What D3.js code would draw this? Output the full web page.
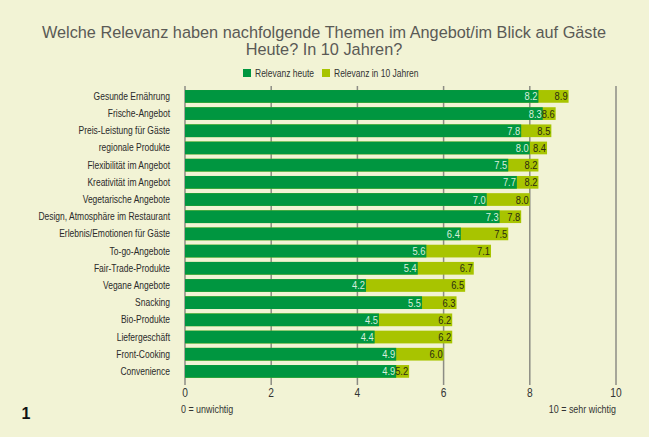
<!DOCTYPE html>
<html>
<head>
<meta charset="utf-8">
<script src="https://cdn.jsdelivr.net/npm/d3@7"></script>
<style>
  html, body { margin: 0; padding: 0; background: #fff; }
  svg { display: block; }
</style>
</head>
<body>
<div class="chart-container"></div>
<script>
const categories = [
  'Gesunde Ernährung', 'Frische-Angebot', 'Preis-Leistung für Gäste', 'regionale Produkte',
  'Flexibilität im Angebot', 'Kreativität im Angebot', 'Vegetarische Angebote',
  'Design, Atmosphäre im Restaurant', 'Erlebnis/Emotionen für Gäste', 'To-go-Angebote',
  'Fair-Trade-Produkte', 'Vegane Angebote', 'Snacking', 'Bio-Produkte', 'Liefergeschäft',
  'Front-Cooking', 'Convenience'
];
const heute = [8.2, 8.3, 7.8, 8.0, 7.5, 7.7, 7.0, 7.3, 6.4, 5.6, 5.4, 4.2, 5.5, 4.5, 4.4, 4.9, 4.9];
const in10Jahren = [8.9, 8.6, 8.5, 8.4, 8.2, 8.2, 8.0, 7.8, 7.5, 7.1, 6.7, 6.5, 6.3, 6.2, 6.2, 6.0, 5.2];
const seriesNames = ['Relevanz heute', 'Relevanz in 10 Jahren'];
const xTicks = [0, 2, 4, 6, 8, 10];

const width = 649, height = 437;
const sans = '"Liberation Sans", Arial, sans-serif';
const squeeze = 0.85; // condensed look, no narrow face installed
const darkGreen = '#009640';
const lightGreen = '#a8c400';

const svg = d3.select('.chart-container')
  .append('svg')
  .attr('width', width)
  .attr('height', height);

// place a text squeezed horizontally
function narrowAt(sel, fx, fy) {
  sel.attr('x', 0).attr('y', 0)
    .attr('transform', (d, i) => `translate(${fx(d, i)},${fy(d, i)}) scale(${squeeze},1)`)
    .style('font-family', sans);
  return sel;
}

// background
svg.append('rect')
  .attr('width', width)
  .attr('height', height)
  .attr('fill', '#f2f3d5');

// title
const title = svg.append('text')
  .attr('text-anchor', 'middle')
  .style('font-family', sans)
  .style('font-size', '16.3px')
  .style('fill', '#5a5a55');
title.append('tspan').attr('x', 324).attr('y', 38)
  .text('Welche Relevanz haben nachfolgende Themen im Angebot/im Blick auf Gäste');
title.append('tspan').attr('x', 324).attr('y', 55)
  .text('Heute? In 10 Jahren?');

// legend
const legendItems = [
  { name: seriesNames[0], color: darkGreen, x: 243 },
  { name: seriesNames[1], color: lightGreen, x: 322 }
];
const legend = svg.append('g').attr('transform', 'translate(0, 69)');
legend.selectAll('rect')
  .data(legendItems)
  .enter()
  .append('rect')
  .attr('x', d => d.x)
  .attr('y', 0)
  .attr('width', 8)
  .attr('height', 8)
  .attr('fill', d => d.color);
narrowAt(legend.selectAll('text')
  .data(legendItems)
  .enter()
  .append('text'), d => d.x + 12, () => 7.5)
  .style('font-size', '10px')
  .style('fill', '#333')
  .text(d => d.name);

// scales
const x = d3.scaleLinear().domain([0, 10]).range([185, 616]);
const y = d3.scaleBand()
  .domain(categories)
  .range([87.8, 380])
  .paddingInner(0.26)
  .paddingOuter(0.13);

// grid lines (behind bars)
svg.append('g')
  .selectAll('line')
  .data(xTicks)
  .enter()
  .append('line')
  .attr('x1', d => x(d))
  .attr('x2', d => x(d))
  .attr('y1', 86)
  .attr('y2', 385)
  .attr('stroke', '#8c8c84')
  .attr('stroke-width', 1.5);

// tick labels
narrowAt(svg.append('g')
  .selectAll('text')
  .data(xTicks)
  .enter()
  .append('text'), d => x(d), () => 397)
  .attr('text-anchor', 'middle')
  .style('font-size', '12px')
  .style('fill', '#333')
  .text(d => d);

const rows = categories.map((c, i) => ({ cat: c, heute: heute[i], later: in10Jahren[i] }));

// bars: in 10 Jahren first, heute on top
svg.append('g')
  .selectAll('rect')
  .data(rows)
  .enter()
  .append('rect')
  .attr('x', x(0))
  .attr('y', d => y(d.cat))
  .attr('width', d => x(d.later) - x(0))
  .attr('height', y.bandwidth())
  .attr('fill', lightGreen);

svg.append('g')
  .selectAll('rect')
  .data(rows)
  .enter()
  .append('rect')
  .attr('x', x(0))
  .attr('y', d => y(d.cat))
  .attr('width', d => x(d.heute) - x(0))
  .attr('height', y.bandwidth())
  .attr('fill', darkGreen);

// value labels
narrowAt(svg.append('g')
  .selectAll('text')
  .data(rows)
  .enter()
  .append('text'), d => x(d.later) - 1, d => y(d.cat) + y.bandwidth() / 2 + 4)
  .attr('text-anchor', 'end')
  .style('font-size', '11px')
  .style('fill', '#2b2b10')
  .text(d => d.later.toFixed(1));

narrowAt(svg.append('g')
  .selectAll('text')
  .data(rows)
  .enter()
  .append('text'), d => x(d.heute) - 1, d => y(d.cat) + y.bandwidth() / 2 + 4)
  .attr('text-anchor', 'end')
  .style('font-size', '11px')
  .style('fill', '#d8efdc')
  .text(d => d.heute.toFixed(1));

// category labels
narrowAt(svg.append('g')
  .selectAll('text')
  .data(categories)
  .enter()
  .append('text'), () => 170, d => y(d) + y.bandwidth() / 2 + 3.5)
  .attr('text-anchor', 'end')
  .style('font-size', '10px')
  .style('fill', '#2a2a2a')
  .text(d => d);

// scale notes
narrowAt(svg.append('text'), () => 181, () => 413)
  .style('font-size', '10.5px')
  .style('fill', '#333')
  .text('0 = unwichtig');
narrowAt(svg.append('text'), () => 616, () => 413)
  .attr('text-anchor', 'end')
  .style('font-size', '10.5px')
  .style('fill', '#333')
  .text('10 = sehr wichtig');

// page number
svg.append('text')
  .attr('x', 26)
  .attr('y', 419)
  .attr('text-anchor', 'middle')
  .style('font-family', sans)
  .style('font-size', '16px')
  .style('font-weight', '700')
  .style('fill', '#111')
  .text('1');
</script>
</body>
</html>
